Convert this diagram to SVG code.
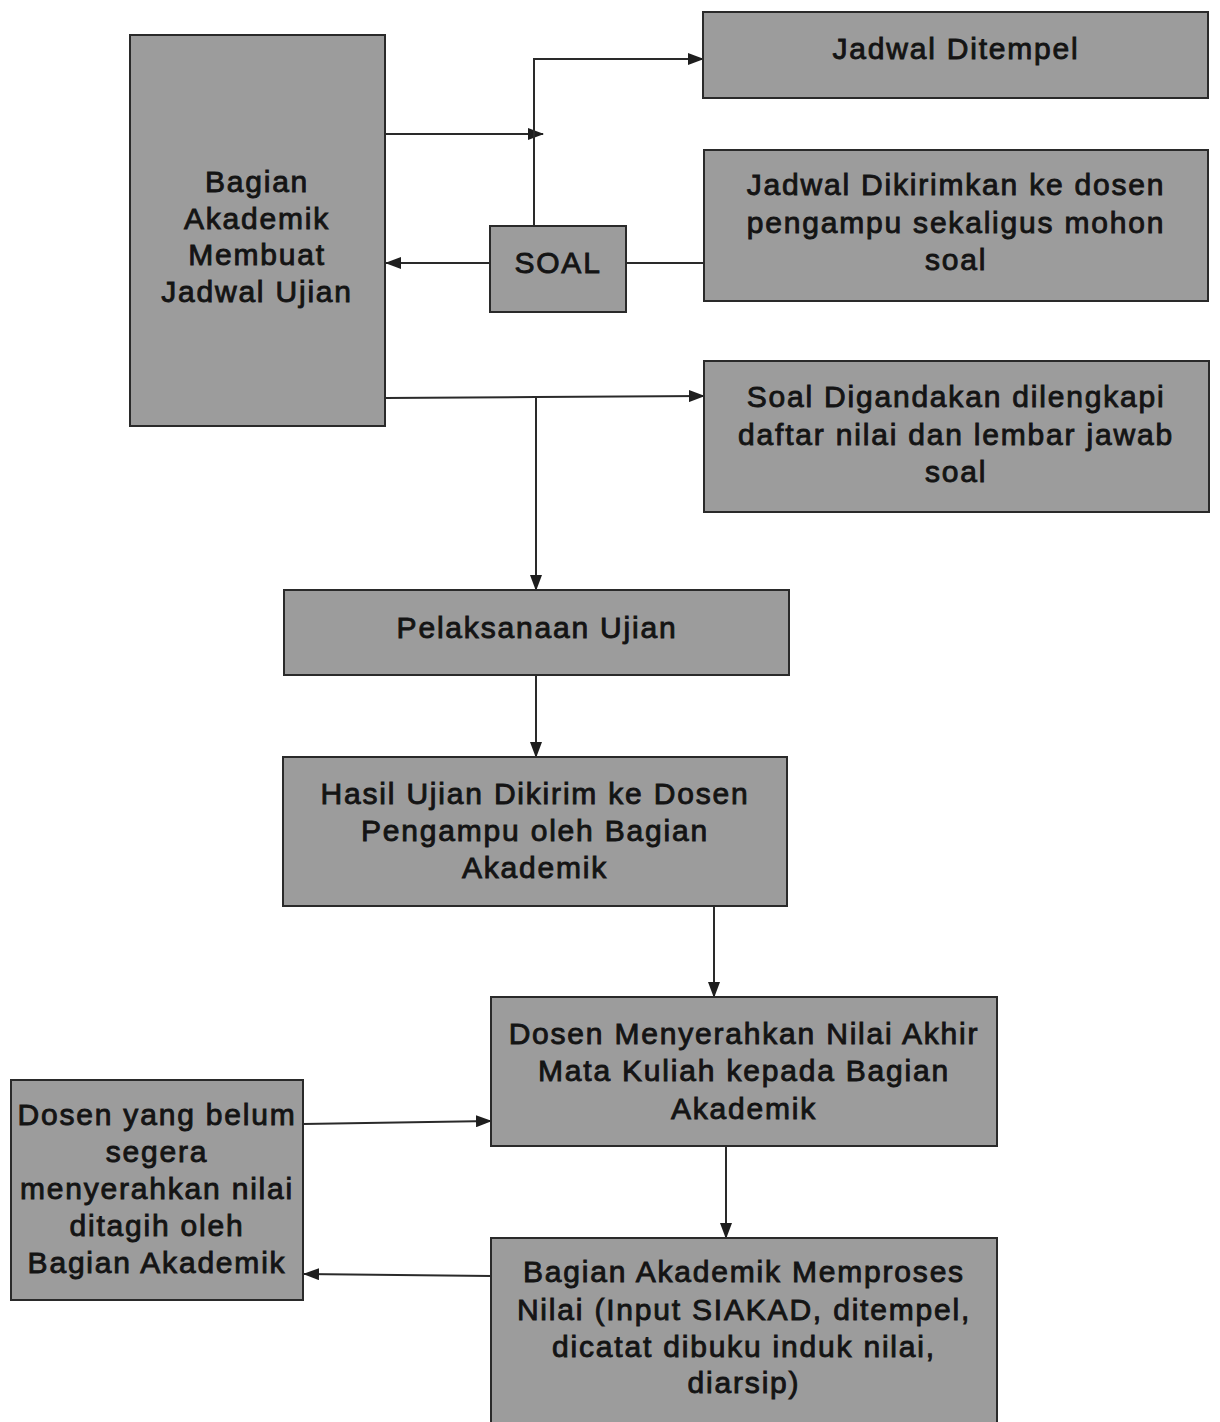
<svg xmlns="http://www.w3.org/2000/svg" width="1220" height="1422" viewBox="0 0 1220 1422">
  <style>
    .box { fill: #9c9c9c; stroke: #2a2a2a; stroke-width: 2; }
    .lbl { font-family: "Liberation Sans", Arial, sans-serif; font-size: 30px; letter-spacing: 1.8px; fill: #141414; text-anchor: middle; stroke: #141414; stroke-width: 0.9; }
    .wire { fill: none; stroke: #2a2a2a; stroke-width: 2; }
  </style>
  <defs>
    <marker id="arrow" markerUnits="userSpaceOnUse" markerWidth="16" markerHeight="12" refX="15" refY="6" orient="auto">
      <path d="M0,0 L16,6 L0,12 Z" fill="#1e1e1e"/>
    </marker>
  </defs>
  <rect width="1220" height="1422" fill="#ffffff"/>

  <g id="connectors">
    <!-- Bagian Akademik -> branch line -->
    <path class="wire" d="M385,134 L543,134" marker-end="url(#arrow)"/>
    <!-- SOAL up to Jadwal Ditempel -->
    <path class="wire" d="M534,226 L534,59 L703,59" marker-end="url(#arrow)"/>
    <!-- SOAL -> Bagian Akademik -->
    <path class="wire" d="M490,263 L386,263" marker-end="url(#arrow)"/>
    <!-- Jadwal Dikirimkan - SOAL -->
    <path class="wire" d="M626,263 L704,263"/>
    <!-- Bagian Akademik -> Soal Digandakan -->
    <path class="wire" d="M385,398 L536,397 L704,396" marker-end="url(#arrow)"/>
    <!-- branch down to Pelaksanaan Ujian -->
    <path class="wire" d="M536,397 L536,590" marker-end="url(#arrow)"/>
    <!-- Pelaksanaan -> Hasil -->
    <path class="wire" d="M536,675 L536,757" marker-end="url(#arrow)"/>
    <!-- Hasil -> Dosen Menyerahkan -->
    <path class="wire" d="M714,906 L714,997" marker-end="url(#arrow)"/>
    <!-- Dosen yang belum -> Dosen Menyerahkan -->
    <path class="wire" d="M303,1124 L491,1121" marker-end="url(#arrow)"/>
    <!-- Dosen Menyerahkan -> Memproses -->
    <path class="wire" d="M726,1146 L726,1238" marker-end="url(#arrow)"/>
    <!-- Memproses -> Dosen yang belum -->
    <path class="wire" d="M491,1276 L304,1274" marker-end="url(#arrow)"/>
  </g>

  <g id="node-buat-jadwal">
    <rect class="box" x="130" y="35" width="255" height="391"/>
    <text class="lbl" x="257" y="192">Bagian</text>
    <text class="lbl" x="257" y="229">Akademik</text>
    <text class="lbl" x="257" y="265">Membuat</text>
    <text class="lbl" x="257" y="302">Jadwal Ujian</text>
  </g>

  <g id="node-ditempel">
    <rect class="box" x="703" y="12" width="505" height="86"/>
    <text class="lbl" x="956" y="59">Jadwal Ditempel</text>
  </g>

  <g id="node-dikirimkan">
    <rect class="box" x="704" y="150" width="504" height="151"/>
    <text class="lbl" x="956" y="195">Jadwal Dikirimkan ke dosen</text>
    <text class="lbl" x="956" y="233">pengampu sekaligus mohon</text>
    <text class="lbl" x="956" y="270">soal</text>
  </g>

  <g id="node-soal">
    <rect class="box" x="490" y="226" width="136" height="86"/>
    <text class="lbl" x="558" y="273">SOAL</text>
  </g>

  <g id="node-digandakan">
    <rect class="box" x="704" y="361" width="505" height="151"/>
    <text class="lbl" x="956" y="407">Soal Digandakan dilengkapi</text>
    <text class="lbl" x="956" y="445">daftar nilai dan lembar jawab</text>
    <text class="lbl" x="956" y="482">soal</text>
  </g>

  <g id="node-pelaksanaan">
    <rect class="box" x="284" y="590" width="505" height="85"/>
    <text class="lbl" x="537" y="638">Pelaksanaan Ujian</text>
  </g>

  <g id="node-hasil">
    <rect class="box" x="283" y="757" width="504" height="149"/>
    <text class="lbl" x="535" y="804">Hasil Ujian Dikirim ke Dosen</text>
    <text class="lbl" x="535" y="841">Pengampu oleh Bagian</text>
    <text class="lbl" x="535" y="878">Akademik</text>
  </g>

  <g id="node-menyerahkan">
    <rect class="box" x="491" y="997" width="506" height="149"/>
    <text class="lbl" x="744" y="1044">Dosen Menyerahkan Nilai Akhir</text>
    <text class="lbl" x="744" y="1081">Mata Kuliah kepada Bagian</text>
    <text class="lbl" x="744" y="1119">Akademik</text>
  </g>

  <g id="node-ditagih">
    <rect class="box" x="11" y="1080" width="292" height="220"/>
    <text class="lbl" x="157" y="1125">Dosen yang belum</text>
    <text class="lbl" x="157" y="1162">segera</text>
    <text class="lbl" x="157" y="1199">menyerahkan nilai</text>
    <text class="lbl" x="157" y="1236">ditagih oleh</text>
    <text class="lbl" x="157" y="1273">Bagian Akademik</text>
  </g>

  <g id="node-memproses">
    <rect class="box" x="491" y="1238" width="506" height="190"/>
    <text class="lbl" x="744" y="1282">Bagian Akademik Memproses</text>
    <text class="lbl" x="744" y="1320">Nilai (Input SIAKAD, ditempel,</text>
    <text class="lbl" x="744" y="1357">dicatat dibuku induk nilai,</text>
    <text class="lbl" x="744" y="1393">diarsip)</text>
  </g>
</svg>
